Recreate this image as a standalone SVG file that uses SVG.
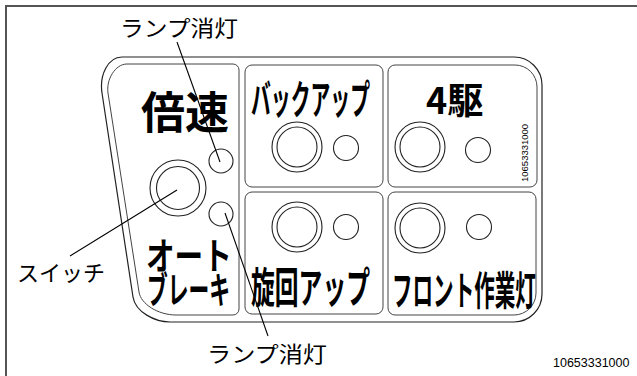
<svg xmlns="http://www.w3.org/2000/svg" width="637" height="376" viewBox="0 0 637 376">
<style>
.frame{fill:none;stroke:#555;stroke-width:2}
.outer{fill:none;stroke:#222;stroke-width:1.2}
.sub{fill:none;stroke:#444;stroke-width:1}
.ring{fill:none;stroke:#222;stroke-width:1.1}
.lead{fill:none;stroke:#000;stroke-width:1.1}
.lbl{font-family:"Noto Sans CJK JP",sans-serif;font-size:22px;fill:#000}
.pl{font-family:"Noto Sans CJK JP",sans-serif;font-weight:bold;fill:#000}
.num{font-family:"Liberation Sans",Arial,sans-serif;fill:#000}
</style>
<rect width="637" height="376" fill="#fff"/>
<path class="frame" d="M6,376 V6 H637"/>
<g id="panel">
<path class="outer" d="M122,57 H514 A28,28 0 0 1 542,85 V294 A28,28 0 0 1 514,322 H170 C155,322 135.3,312 133,297 L102,93 C99.3,75 108,57 122,57 Z"/>
</g>
<g id="node-left">
<path class="sub" d="M127,64 H233 A6,6 0 0 1 239,70 V309 A6,6 0 0 1 233,315 H176 C158,315 140.8,304 139,292 L108,93 C106,80 115,64 127,64 Z"/>
<text class="pl" x="141" y="129" font-size="44">倍速</text>
<circle class="ring" cx="178" cy="188" r="28"/>
<circle class="ring" cx="178" cy="188" r="21.5"/>
<circle class="ring" cx="221" cy="161" r="12"/>
<circle class="ring" cx="221" cy="214" r="12"/>
<text class="pl" transform="translate(146,0) scale(0.561,1)" font-size="37"><tspan x="0" y="270" textLength="153" lengthAdjust="spacingAndGlyphs">オート</tspan><tspan x="2" y="304">ブレーキ</tspan></text>
</g>
<g id="node-backup">
<rect class="sub" x="245" y="65" width="138" height="122" rx="7"/>
<text class="pl" transform="translate(251,114) scale(0.496,1)" font-size="40">バックアップ</text>
<circle class="ring" cx="297" cy="147" r="25"/>
<circle class="ring" cx="297" cy="147" r="20"/>
<circle class="ring" cx="346" cy="148" r="12.5"/>
</g>
<g id="node-senkai">
<rect class="sub" x="245" y="192" width="138" height="122" rx="7"/>
<circle class="ring" cx="297" cy="227" r="25"/>
<circle class="ring" cx="297" cy="227" r="20"/>
<circle class="ring" cx="346" cy="227" r="12.5"/>
<text class="pl" transform="translate(251,303) scale(0.567,1)" font-size="42">旋回アップ</text>
</g>
<g id="node-4wd">
<path class="sub" d="M395,65 H515 A22,22 0 0 1 537,87 V180 A7,7 0 0 1 530,187 H395 A7,7 0 0 1 388,180 V72 A7,7 0 0 1 395,65 Z"/>
<text class="pl" x="426" y="114" font-size="36">4駆</text>
<circle class="ring" cx="420" cy="147" r="25"/>
<circle class="ring" cx="420" cy="147" r="20"/>
<circle class="ring" cx="478" cy="150" r="12.5"/>
<text class="num" x="528" y="182" transform="rotate(-90 528 182)" font-size="9.5">10653331000</text>
</g>
<g id="node-front">
<path class="sub" d="M395,192 H529 A7,7 0 0 1 536,199 V293 A22,22 0 0 1 514,315 H395 A7,7 0 0 1 388,308 V199 A7,7 0 0 1 395,192 Z"/>
<circle class="ring" cx="420" cy="228" r="25"/>
<circle class="ring" cx="420" cy="228" r="20"/>
<circle class="ring" cx="479" cy="227" r="12.5"/>
<text class="pl" transform="translate(392,305) scale(0.514,1)" font-size="40">フロント作業灯</text>
</g>
<g id="connectors">
<line class="lead" x1="177" y1="42" x2="220" y2="162"/>
<line class="lead" x1="70" y1="256" x2="177" y2="190"/>
<line class="lead" x1="225" y1="213" x2="268" y2="336"/>
</g>
<g id="labels">
<text class="lbl" x="120" y="36" textLength="118" lengthAdjust="spacingAndGlyphs">ランプ消灯</text>
<text class="lbl" x="17" y="281" font-size="21">スイッチ</text>
<text class="lbl" x="207" y="362" textLength="120" lengthAdjust="spacingAndGlyphs">ランプ消灯</text>
<text class="num" x="553" y="367" font-size="12.5">10653331000</text>
</g>
</svg>
